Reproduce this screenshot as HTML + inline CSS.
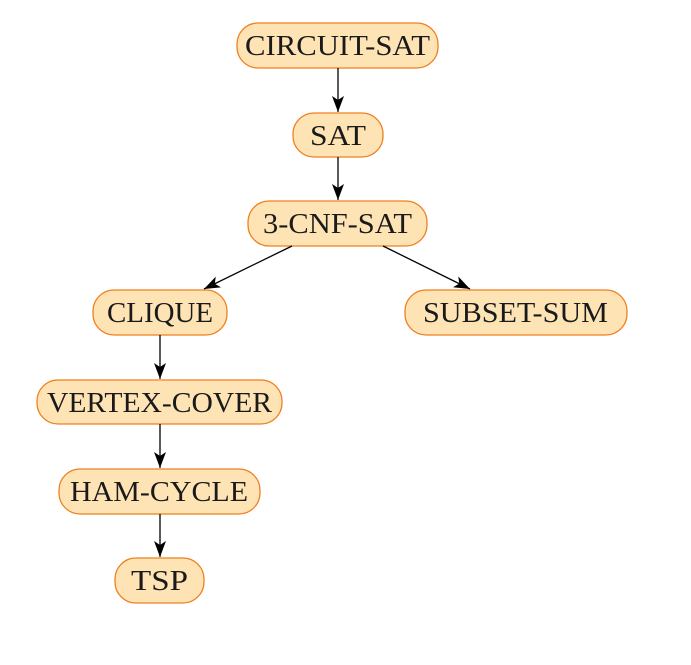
<!DOCTYPE html>
<html><head><style>body{margin:0;background:#fff}svg{display:block}</style></head><body>
<svg width="691" height="665" viewBox="0 0 691 665" xmlns="http://www.w3.org/2000/svg">
<defs>
<marker id="a" viewBox="0 0 16 12" refX="16" refY="6" markerWidth="16" markerHeight="12" markerUnits="userSpaceOnUse" orient="auto">
<path d="M0,0 L16,6 L0,12 L4,6 Z" fill="#000"/>
</marker>
</defs>
<g fill="#fee4b5" stroke="#f07f1f" stroke-width="1.3">
<rect x="237" y="23" width="201" height="45" rx="21"/>
<rect x="293" y="113" width="90" height="44" rx="21"/>
<rect x="248" y="201" width="179" height="45" rx="21"/>
<rect x="93" y="290" width="134" height="45" rx="21"/>
<rect x="405" y="290" width="222" height="45" rx="21"/>
<rect x="37" y="380" width="245" height="44" rx="21"/>
<rect x="59" y="469" width="201" height="45" rx="21"/>
<rect x="115" y="558" width="89" height="45" rx="21"/>
</g>
<g stroke="#000" stroke-width="1.3" marker-end="url(#a)">
<line x1="338" y1="68" x2="338" y2="112"/>
<line x1="338" y1="157" x2="338" y2="200"/>
<line x1="292" y1="246" x2="204" y2="289"/>
<line x1="383" y1="246" x2="470" y2="289"/>
<line x1="160" y1="335" x2="160" y2="379"/>
<line x1="160" y1="424" x2="160" y2="468"/>
<line x1="160" y1="514" x2="160" y2="557"/>
</g>
<g font-family="Liberation Serif, serif" font-size="29" fill="#1a1a1a" lengthAdjust="spacingAndGlyphs">
<text x="245" y="55" textLength="185" lengthAdjust="spacingAndGlyphs">CIRCUIT-SAT</text>
<text x="310" y="145" textLength="56" lengthAdjust="spacingAndGlyphs">SAT</text>
<text x="263" y="233" textLength="149" lengthAdjust="spacingAndGlyphs">3-CNF-SAT</text>
<text x="107" y="322" textLength="106" lengthAdjust="spacingAndGlyphs">CLIQUE</text>
<text x="423" y="322" textLength="185" lengthAdjust="spacingAndGlyphs">SUBSET-SUM</text>
<text x="47" y="412" textLength="225" lengthAdjust="spacingAndGlyphs">VERTEX-COVER</text>
<text x="70" y="501" textLength="178" lengthAdjust="spacingAndGlyphs">HAM-CYCLE</text>
<text x="131" y="590" textLength="57" lengthAdjust="spacingAndGlyphs">TSP</text>
</g>
</svg>
</body></html>
